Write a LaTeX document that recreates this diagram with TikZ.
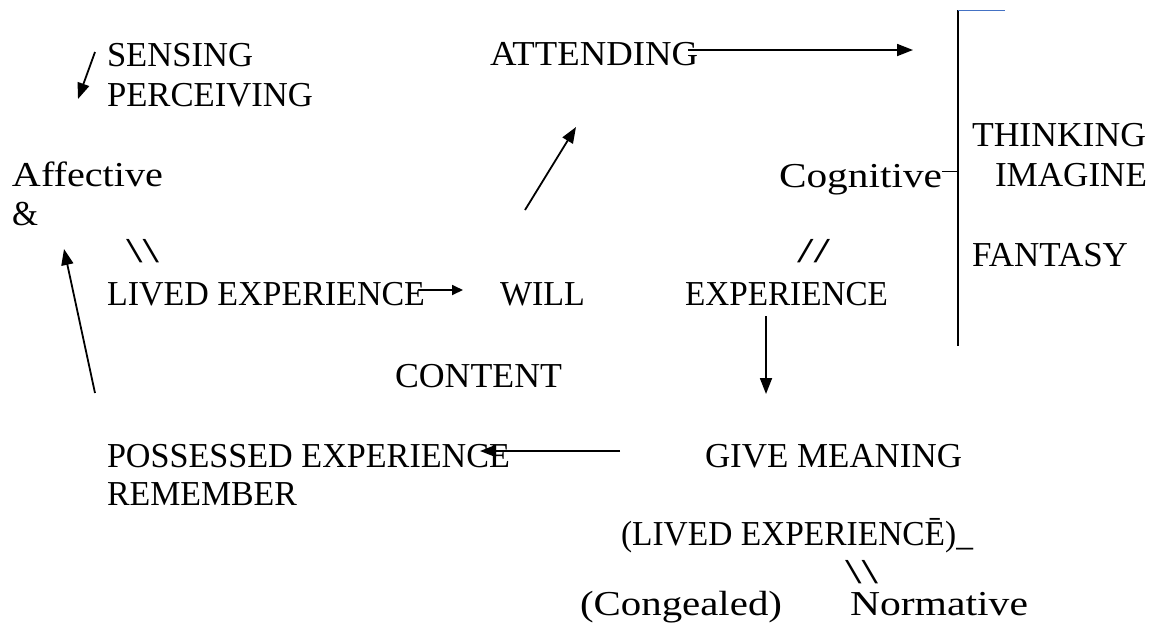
\documentclass[tikz,border=0pt]{standalone}
\usepackage{fontspec}
\setmainfont{Liberation Serif}
\usepackage{graphicx}
\usetikzlibrary{arrows.meta}
\newcommand{\fitw}[2]{\resizebox{#1pt}{\height}{#2}}
\definecolor{barblue}{HTML}{4472C4}
\begin{document}
\begin{tikzpicture}[x=1pt,y=-1pt,
  lbl/.style={inner sep=0pt,outer sep=0pt,anchor=base west,font=\fontsize{35}{42}\selectfont},
  conn/.style={line width=1.8pt,-{Triangle[length=16pt,width=12pt]}},
  connsmall/.style={line width=1.8pt,-{Triangle[length=11pt,width=10pt]}},
  plain/.style={line width=1.8pt}]
\useasboundingbox (0,0) rectangle (1151,633);
% texts
\node[lbl] (sensing) at (107,66) {\fitw{146}{SENSING}};
\node[lbl] (perceiving) at (107,106) {\fitw{206}{PERCEIVING}};
\node[lbl] (affective) at (12,186) {\fitw{151}{Affective}};
\node[lbl] (amp) at (12,225) {\fitw{26}{\&}};
\node[lbl] (bs1) at (126,262) {\fitw{33}{\textbackslash\textbackslash}};
\node[lbl] (attending) at (490,65) {\fitw{208}{ATTENDING}};
\node[lbl] (cognitive) at (779,187) {\fitw{163}{Cognitive}};
\node[lbl] (thinking) at (972,146) {\fitw{174}{THINKING}};
\node[lbl] (imagine) at (995,186) {\fitw{152}{IMAGINE}};
\node[lbl] (fantasy) at (972,266) {\fitw{156}{FANTASY}};
\node[lbl] (fs1) at (797,262) {\fitw{33}{//}};
\node[lbl] (lived) at (107,305) {\fitw{318}{LIVED EXPERIENCE}};
\node[lbl] (will) at (500,305) {\fitw{85}{WILL}};
\node[lbl] (experience) at (685,305) {\fitw{203}{EXPERIENCE}};
\node[lbl] (content) at (395,387) {\fitw{167}{CONTENT}};
\node[lbl] (givemeaning) at (705,467) {\fitw{257}{GIVE MEANING}};
\node[lbl] (possessed) at (107,467) {\fitw{403}{POSSESSED EXPERIENCE}};
\node[lbl] (remember) at (107,505) {\fitw{190}{REMEMBER}};
\node[lbl] (lived2) at (621,545) {\fitw{352}{(LIVED EXPERIENC\={E})\_}};
\node[lbl] (bs2) at (845,583) {\fitw{33}{\textbackslash\textbackslash}};
\node[lbl] (congealed) at (580,615) {\fitw{202}{(Congealed)}};
\node[lbl] (normative) at (850,615) {\fitw{178}{Normative}};
% coordinates
\coordinate (senseA) at (95,52);
\coordinate (senseB) at (78,99);
\coordinate (attA) at (688,50);
\coordinate (attB) at (913,50);
\coordinate (willA) at (525,210);
\coordinate (willB) at (576,127);
\coordinate (livA) at (418,290);
\coordinate (livB) at (463,290);
\coordinate (expA) at (766,316);
\coordinate (expB) at (766,394);
\coordinate (gmA) at (620,451);
\coordinate (gmB) at (480,451);
\coordinate (upA) at (95,393);
\coordinate (upB) at (64,249);
\coordinate (vtop) at (958,10);
\coordinate (vbot) at (958,346);
\coordinate (btop) at (1005,10);
\coordinate (tickL) at (942,171);
\coordinate (tickR) at (958,171);
% connectors
\draw[conn] (senseA) -- (senseB);
\draw[conn] (attA) -- (attB);
\draw[conn] (willA) -- (willB);
\draw[connsmall] (livA) -- (livB);
\draw[conn] (expA) -- (expB);
\draw[conn] (gmA) -- (gmB);
\draw[conn] (upA) -- (upB);
\draw[plain] (vtop) -- (vbot);
\draw[barblue,line width=1pt] (vtop) -- (btop);
\draw[line width=1pt] (tickL) -- (tickR);
\end{tikzpicture}
\end{document}
